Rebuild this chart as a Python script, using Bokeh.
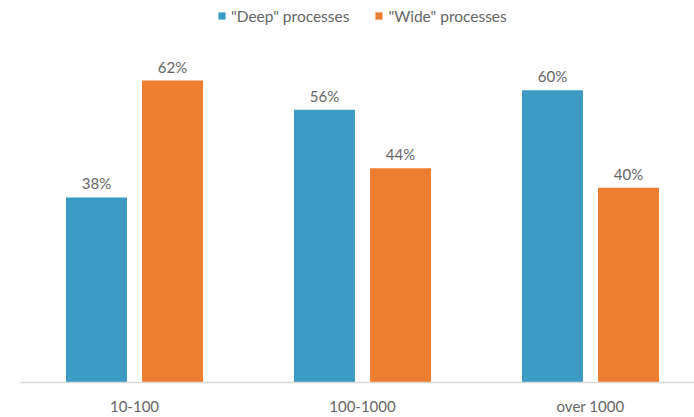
from bokeh.plotting import figure
from bokeh.models import ColumnDataSource, Legend, LegendItem, Range1d, FixedTicker
from bokeh.embed import file_html
from bokeh.resources import INLINE
from bokeh.core.properties import value
from bokeh.transform import dodge

categories = ["10-100", "100-1000", "over 1000"]
deep = [38, 56, 60]
wide = [62, 44, 40]
series_names = ['"Deep" processes', '"Wide" processes']

BLUE = "#3C9AC4"
ORANGE = "#ED7D31"
TXT = "#666666"
FONT = "Lato"

FRAME_H = 382
xs = list(range(len(categories)))
src = ColumnDataSource(dict(
    x=xs,
    deep=deep,
    wide=wide,
    deep_lbl=[f"{v}%" for v in deep],
    wide_lbl=[f"{v}%" for v in wide],
))

p = figure(width=694, height=417, output_backend="svg", toolbar_location=None,
           x_range=Range1d(-0.5, -0.5 + 674 / 228), y_range=Range1d(0, FRAME_H / 4.87),
           min_border_left=20, min_border_right=0, min_border_top=0, min_border_bottom=0)
p.outline_line_color = None
p.xgrid.visible = False
p.ygrid.visible = False
p.yaxis.visible = False

off = 0.1667
bw = 0.2675
r1 = p.vbar(x=dodge("x", -off, range=p.x_range), top="deep", width=bw, source=src,
            fill_color=BLUE, line_color=None)
r2 = p.vbar(x=dodge("x", off, range=p.x_range), top="wide", width=bw, source=src,
            fill_color=ORANGE, line_color=None)

for col, lbl, o in (("deep", "deep_lbl", -off), ("wide", "wide_lbl", off)):
    p.text(x=dodge("x", o, range=p.x_range), y=col, text=lbl, source=src,
           text_align="center", text_baseline="alphabetic", y_offset=-14,
           text_font=value(FONT), text_font_size="15px", text_color=TXT)

ax = p.xaxis[0]
ax.ticker = FixedTicker(ticks=xs)
ax.major_label_overrides = {i: c for i, c in zip(xs, categories)}
ax.major_tick_line_color = None
ax.minor_tick_line_color = None
ax.axis_line_color = "#D9D9D9"
ax.axis_line_width = 1.5
ax.major_label_standoff = 8
ax.major_label_text_font = FONT
ax.major_label_text_font_size = "15px"
ax.major_label_text_color = TXT

legend = Legend(items=[LegendItem(label=series_names[0], renderers=[r1]),
                       LegendItem(label=series_names[1], renderers=[r2])],
                orientation="horizontal", location=(197, FRAME_H - 25.5),
                glyph_width=9, glyph_height=9, label_standoff=5, spacing=25,
                padding=0, margin=0, label_height=20,
                border_line_alpha=0, background_fill_alpha=0,
                label_text_font=FONT, label_text_font_size="15.5px",
                label_text_color=TXT)
p.add_layout(legend)

open("out.html", "w").write(file_html(p, INLINE))
